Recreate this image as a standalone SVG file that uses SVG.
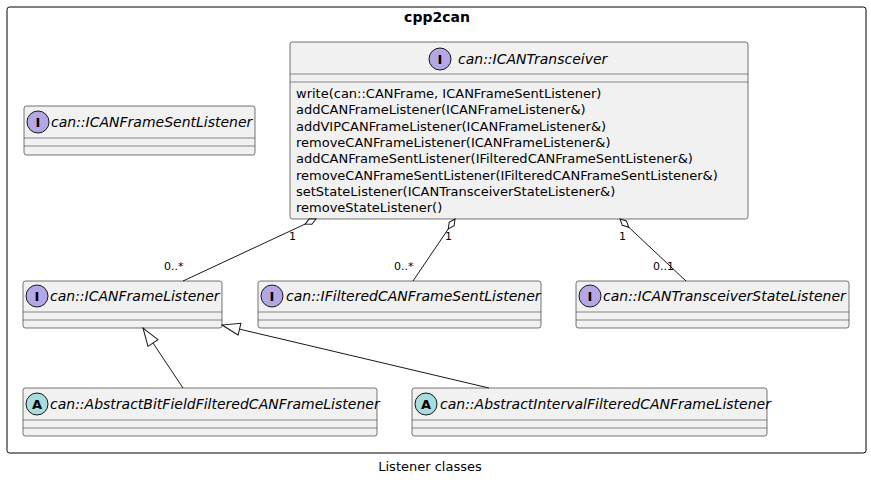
<svg xmlns="http://www.w3.org/2000/svg" width="871" height="482" viewBox="0 0 871 482">
<style>
text{font-family:"DejaVu Sans","Liberation Sans",sans-serif;fill:#000}
.box{fill:#F1F1F1;stroke:#181818;stroke-width:0.6}
.sep{stroke:#181818;stroke-width:0.5}
.nm{font-size:14px;font-style:italic}
.m{font-size:13px}
.lb{font-size:11px}
.ci{stroke:#181818;stroke-width:1}
.ic{font-size:13px;font-weight:bold;text-anchor:middle}
.ln{fill:none;stroke:#181818;stroke-width:1}
</style>
<defs>
<marker id="dia" viewBox="0 0 14 8" refX="13" refY="4" markerWidth="14" markerHeight="8" markerUnits="userSpaceOnUse" orient="auto"><path d="M1,4 L7,1 L13,4 L7,7 Z" fill="#fff" stroke="#181818" stroke-width="1"/></marker>
<marker id="tri" viewBox="0 0 20 14" refX="19" refY="7" markerWidth="20" markerHeight="14" markerUnits="userSpaceOnUse" orient="auto"><path d="M1,1 L19,7 L1,13 Z" fill="#fff" stroke="#181818" stroke-width="1"/></marker>
</defs>
<rect x="7" y="7" width="859" height="446" rx="2.5" fill="none" stroke="#000" stroke-width="1"/>
<text x="437" y="22" font-size="14" font-weight="bold" text-anchor="middle">cpp2can</text>
<g id="ICANTransceiver">
<rect class="box" x="290" y="42" width="458" height="177" rx="2.5"/>
<circle class="ci" cx="440" cy="59" r="11" fill="#B4A7E5"/><text class="ic" x="440" y="64">I</text>
<text class="nm" x="458" y="64">can::ICANTransceiver</text>
<line class="sep" x1="290" y1="74" x2="748" y2="74"/><line class="sep" x1="290" y1="82" x2="748" y2="82"/>
<text class="m" x="296" y="98">write(can::CANFrame, ICANFrameSentListener)</text>
<text class="m" x="296" y="114">addCANFrameListener(ICANFrameListener&amp;)</text>
<text class="m" x="296" y="131">addVIPCANFrameListener(ICANFrameListener&amp;)</text>
<text class="m" x="296" y="147">removeCANFrameListener(ICANFrameListener&amp;)</text>
<text class="m" x="296" y="163">addCANFrameSentListener(IFilteredCANFrameSentListener&amp;)</text>
<text class="m" x="296" y="180">removeCANFrameSentListener(IFilteredCANFrameSentListener&amp;)</text>
<text class="m" x="296" y="196">setStateListener(ICANTransceiverStateListener&amp;)</text>
<text class="m" x="296" y="212">removeStateListener()</text>
</g>
<g id="ICANFrameSentListener">
<rect class="box" x="24" y="106" width="231" height="49" rx="2.5"/>
<circle class="ci" cx="38" cy="122" r="11" fill="#B4A7E5"/><text class="ic" x="38" y="127">I</text>
<text class="nm" x="51" y="127">can::ICANFrameSentListener</text>
<line class="sep" x1="24" y1="138" x2="255" y2="138"/><line class="sep" x1="24" y1="146" x2="255" y2="146"/>
</g>
<g id="ICANFrameListener">
<rect class="box" x="23" y="281" width="199" height="47" rx="2.5"/>
<circle class="ci" cx="37" cy="296" r="11" fill="#B4A7E5"/><text class="ic" x="37" y="301">I</text>
<text class="nm" x="50" y="301">can::ICANFrameListener</text>
<line class="sep" x1="23" y1="312" x2="222" y2="312"/><line class="sep" x1="23" y1="320" x2="222" y2="320"/>
</g>
<g id="IFilteredCANFrameSentListener">
<rect class="box" x="258" y="281" width="283" height="47" rx="2.5"/>
<circle class="ci" cx="272" cy="296" r="11" fill="#B4A7E5"/><text class="ic" x="272" y="301">I</text>
<text class="nm" x="286" y="301">can::IFilteredCANFrameSentListener</text>
<line class="sep" x1="258" y1="312" x2="541" y2="312"/><line class="sep" x1="258" y1="320" x2="541" y2="320"/>
</g>
<g id="ICANTransceiverStateListener">
<rect class="box" x="576" y="281" width="273" height="47" rx="2.5"/>
<circle class="ci" cx="590" cy="296" r="11" fill="#B4A7E5"/><text class="ic" x="590" y="301">I</text>
<text class="nm" x="603" y="301">can::ICANTransceiverStateListener</text>
<line class="sep" x1="576" y1="312" x2="849" y2="312"/><line class="sep" x1="576" y1="320" x2="849" y2="320"/>
</g>
<g id="AbstractBitFieldFilteredCANFrameListener">
<rect class="box" x="23" y="388" width="354" height="48" rx="2.5"/>
<circle class="ci" cx="37" cy="404" r="11" fill="#A9DCDF"/><text class="ic" x="37" y="409">A</text>
<text class="nm" x="50" y="409">can::AbstractBitFieldFilteredCANFrameListener</text>
<line class="sep" x1="23" y1="420" x2="377" y2="420"/><line class="sep" x1="23" y1="428" x2="377" y2="428"/>
</g>
<g id="AbstractIntervalFilteredCANFrameListener">
<rect class="box" x="412" y="388" width="355" height="48" rx="2.5"/>
<circle class="ci" cx="426" cy="404" r="11" fill="#A9DCDF"/><text class="ic" x="426" y="409">A</text>
<text class="nm" x="440" y="409">can::AbstractIntervalFilteredCANFrameListener</text>
<line class="sep" x1="412" y1="420" x2="767" y2="420"/><line class="sep" x1="412" y1="428" x2="767" y2="428"/>
</g>
<g id="connectors">
<path class="ln" d="M183,281 L316,219" marker-end="url(#dia)"/>
<path class="ln" d="M413,281 L455,219" marker-end="url(#dia)"/>
<path class="ln" d="M686,281 L620,219" marker-end="url(#dia)"/>
<path class="ln" d="M183,388 L143,328" marker-end="url(#tri)"/>
<path class="ln" d="M489,388 L222,325" marker-end="url(#tri)"/>
<text class="lb" x="289" y="240">1</text>
<text class="lb" x="164" y="270">0..*</text>
<text class="lb" x="445" y="240">1</text>
<text class="lb" x="394" y="270">0..*</text>
<text class="lb" x="619" y="240">1</text>
<text class="lb" x="653" y="270">0..1</text>
</g>
<text x="430" y="471" font-size="13" text-anchor="middle">Listener classes</text>
</svg>
